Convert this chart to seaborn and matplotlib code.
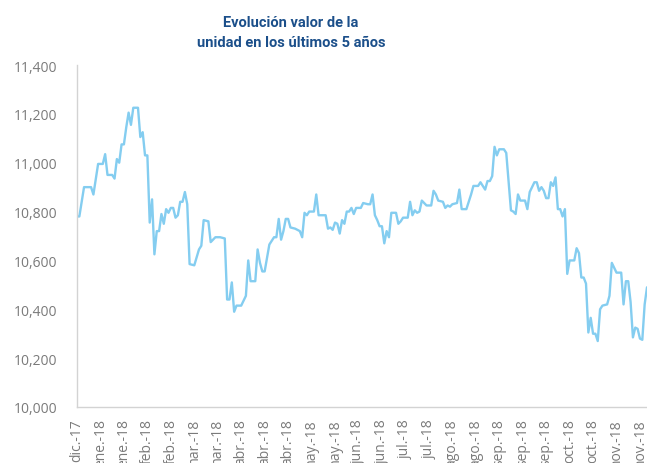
import matplotlib
matplotlib.use("Agg")
import matplotlib.pyplot as plt
import pandas as pd
import seaborn as sns

# business-day index and unit value
dia = [
    0, 1, 3, 6, 7, 9, 11, 12, 13, 15, 16, 17, 18, 19, 20, 21, 22, 23, 24, 26,
    27, 28, 29, 30, 31, 32, 33, 34, 35, 36, 37, 38, 39, 40, 41, 42, 43, 44, 45, 46,
    47, 48, 50, 52, 53, 54, 56, 57, 59, 61, 63, 64, 65, 66, 67, 68, 70, 72, 73, 74,
    76, 77, 78, 79, 80, 81, 82, 83, 84, 85, 86, 87, 88, 89, 90, 91, 93, 95, 96, 97,
    98, 99, 101, 102, 103, 104, 106, 107, 108, 109, 110, 111, 112, 113, 114, 115, 116, 117, 118, 119,
    121, 122, 124, 125, 126, 127, 128, 129, 130, 131, 132, 133, 134, 136, 137, 138, 139, 141, 142, 143,
    144, 145, 146, 147, 149, 151, 152, 153, 154, 156, 157, 158, 159, 160, 162, 163, 164, 166, 167, 168,
    169, 171, 172, 174, 175, 176, 177, 178, 179, 180, 182, 183, 185, 186, 187, 188, 189, 191, 192, 193,
    195, 196, 197, 198, 199, 200, 201, 202, 203, 204, 205, 206, 207, 208, 209, 210, 212, 213, 214, 215,
    216, 217, 218, 219, 220, 221, 222, 223, 224, 226, 227, 228, 229, 230, 232, 233, 234, 235, 236, 237,
    238, 239, 240, 241, 242, 243,
]
valor = [
    10780, 10780, 10900, 10900, 10870, 10995, 10995, 11035, 10950, 10950, 10935, 11015, 11000, 11075, 11075, 11145, 11205, 11155, 11225, 11225,
    11105, 11125, 11030, 11030, 10755, 10850, 10625, 10720, 10720, 10790, 10750, 10810, 10795, 10815, 10815, 10775, 10785, 10840, 10840, 10880,
    10830, 10585, 10580, 10645, 10660, 10765, 10760, 10675, 10695, 10695, 10690, 10440, 10440, 10510, 10390, 10415, 10415, 10455, 10600, 10515,
    10515, 10645, 10590, 10555, 10555, 10610, 10665, 10680, 10695, 10695, 10770, 10685, 10720, 10770, 10770, 10735, 10730, 10720, 10695, 10795,
    10785, 10800, 10800, 10870, 10785, 10785, 10785, 10730, 10735, 10725, 10755, 10750, 10710, 10765, 10750, 10800, 10800, 10815, 10790, 10815,
    10815, 10835, 10830, 10830, 10870, 10785, 10765, 10740, 10740, 10670, 10720, 10695, 10795, 10795, 10750, 10760, 10775, 10775, 10840, 10785,
    10805, 10795, 10800, 10845, 10825, 10825, 10885, 10870, 10845, 10840, 10815, 10825, 10820, 10830, 10835, 10890, 10810, 10810, 10840, 10870,
    10905, 10905, 10920, 10890, 10925, 10925, 10945, 11065, 11030, 11055, 11055, 11040, 10805, 10800, 10790, 10870, 10845, 10845, 10810, 10880,
    10920, 10920, 10885, 10900, 10885, 10855, 10855, 10920, 10905, 10940, 10810, 10810, 10780, 10810, 10545, 10600, 10600, 10650, 10630, 10530,
    10530, 10505, 10305, 10365, 10300, 10300, 10270, 10400, 10415, 10420, 10455, 10590, 10570, 10550, 10550, 10420, 10515, 10515, 10430, 10285,
    10325, 10320, 10280, 10275, 10420, 10490,
]

tick_pos = list(range(0, 241, 10))
tick_labels = [
    "dic.-17", "ene.-18", "ene.-18", "feb.-18", "feb.-18", "mar.-18", "mar.-18",
    "abr.-18", "abr.-18", "abr.-18", "may.-18", "may.-18", "jun.-18", "jun.-18",
    "jul.-18", "jul.-18", "ago.-18", "ago.-18", "sep.-18", "sep.-18", "sep.-18",
    "oct.-18", "oct.-18", "nov.-18", "nov.-18",
]
y_ticks = list(range(10000, 11401, 200))

df = pd.DataFrame({"dia": dia, "valor": valor})

sns.set_theme(style="white")
plt.rcParams["font.family"] = ["Open Sans", "DejaVu Sans"]

fig = plt.figure(figsize=(6.47, 4.64), dpi=100)
ax = fig.add_axes([77 / 647, 56 / 464, 570 / 647, 342 / 464])

sns.lineplot(data=df, x="dia", y="valor", ax=ax, color="#84cdf0", linewidth=1.7)

ax.set_xlim(0, 243)
ax.set_ylim(10000, 11400)
ax.set_yticks(y_ticks)
ax.set_yticklabels([f"{v:,}" for v in y_ticks])
ax.set_xticks(tick_pos)
ax.set_xticklabels(tick_labels, rotation=90, va="top", ha="center")
ax.tick_params(axis="x", length=0, pad=8, labelsize=10, labelcolor="#7a7a7a")
ax.tick_params(axis="y", length=0, pad=14, labelsize=10, labelcolor="#7a7a7a")
ax.set_xlabel("")
ax.set_ylabel("")

for side in ["top", "right"]:
    ax.spines[side].set_visible(False)
for side in ["left", "bottom"]:
    ax.spines[side].set_color("#d3d3d3")
    ax.spines[side].set_linewidth(1)

fig.text(291 / 647, 1 - 33 / 464, "Evolución valor de la\nunidad en los últimos 5 años",
         ha="center", va="center", fontsize=10.5, fontweight="bold", color="#1b4f8a",
         family=["Roboto", "DejaVu Sans"], linespacing=1.55)

fig.savefig("out.png", dpi=100)
